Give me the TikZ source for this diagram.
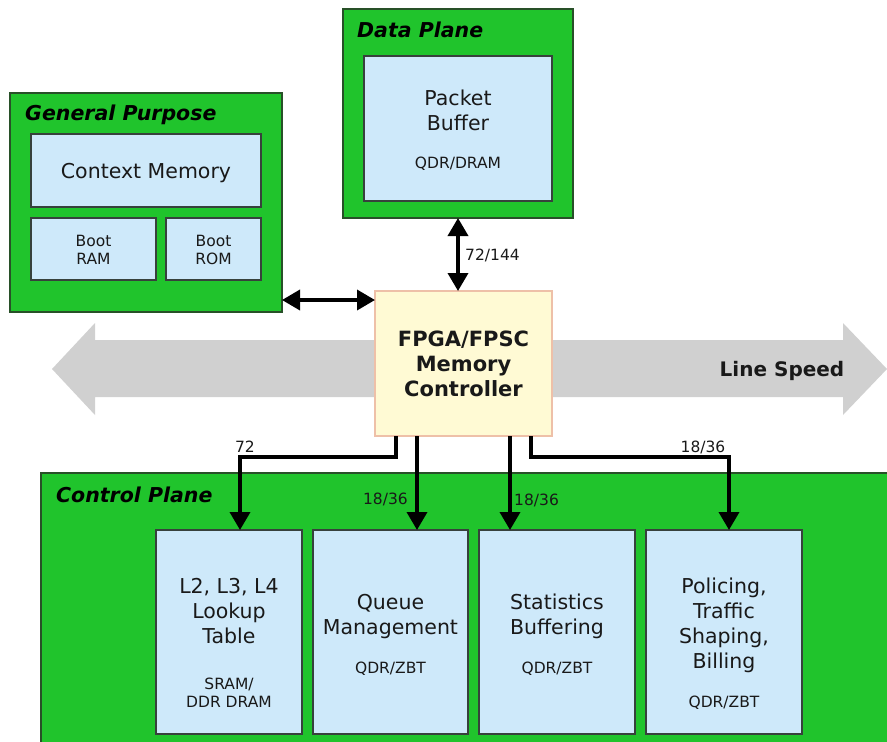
\documentclass[tikz,border=0pt]{standalone}
\usepackage{fontspec}
\setmainfont{DejaVu Sans}
\usetikzlibrary{arrows.meta}

\definecolor{planegreen}{RGB}{32,196,44}
\definecolor{planeedge}{RGB}{40,80,40}
\definecolor{memblue}{RGB}{206,233,250}
\definecolor{memedge}{RGB}{55,65,60}
\definecolor{ctrlfill}{RGB}{255,250,212}
\definecolor{ctrledge}{RGB}{238,192,168}
\definecolor{speedgray}{RGB}{208,208,208}
\definecolor{ink}{RGB}{25,25,25}

\tikzset{
  plane/.style={draw=planeedge, line width=1.3pt, fill=planegreen, inner sep=0pt, outer sep=0pt},
  mem/.style={draw=memedge, line width=1.3pt, fill=memblue, inner sep=0pt, outer sep=0pt},
  ctrl/.style={draw=ctrledge, line width=1.2pt, fill=ctrlfill, inner sep=0pt, outer sep=0pt},
  bigtxt/.style={anchor=base, inner sep=0pt, text=ink, font=\fontsize{20.5}{24}\selectfont},
  smalltxt/.style={anchor=base, inner sep=0pt, text=ink, font=\fontsize{15.5}{18}\selectfont},
  boldtxt/.style={anchor=base, inner sep=0pt, text=ink, font=\fontsize{21}{25}\selectfont\bfseries},
  planetitle/.style={anchor=base west, inner sep=0pt, text=black, font=\fontsize{20.5}{24}\selectfont\bfseries\itshape},
  buslabel/.style={inner sep=0pt, text=ink, font=\fontsize{15.5}{18}\selectfont},
  tip/.tip={Triangle[length=18pt,width=20pt]},
  bus/.style={line width=3.6pt, draw=black},
}

\begin{document}
\begin{tikzpicture}[x=1pt,y=-1pt]
\useasboundingbox (0,0) rectangle (887,742);
\clip (0,0) rectangle (887,742);

% line-speed band behind the controller
\fill[speedgray] (52,369) -- (95,323) -- (95,340) -- (843,340) -- (843,323)
  -- (887,369) -- (843,415) -- (843,397) -- (95,397) -- (95,415) -- cycle;
\node[anchor=base, inner sep=0pt, text=ink, font=\fontsize{20}{24}\selectfont\bfseries] (speed) at (782,376) {Line Speed};

% general purpose memories
\node[plane, minimum width=272pt, minimum height=219pt] (gp) at (146,202.5) {};
\node[planetitle] (gptitle) at (25,120) {General Purpose};
\node[mem, minimum width=230pt, minimum height=73pt] (ctx) at (146,170.5) {};
\node[bigtxt] (ctxtxt) at (146,178) {Context Memory};
\node[mem, minimum width=125pt, minimum height=62pt] (bram) at (93.5,249) {};
\node[smalltxt] (bramA) at (93.5,246.5) {Boot};
\node[smalltxt] (bramB) at (93.5,264.5) {RAM};
\node[mem, minimum width=95pt, minimum height=62pt] (brom) at (213.5,249) {};
\node[smalltxt] (bromA) at (213.5,246.5) {Boot};
\node[smalltxt] (bromB) at (213.5,264.5) {ROM};

% data plane
\node[plane, minimum width=230pt, minimum height=209pt] (dp) at (458,113.5) {};
\node[planetitle] (dptitle) at (357,37) {Data Plane};
\node[mem, minimum width=188pt, minimum height=145pt] (pkt) at (458,128.5) {};
\node[bigtxt] (pktA) at (458,105) {Packet};
\node[bigtxt] (pktB) at (458,130) {Buffer};
\node[smalltxt] (pktC) at (458,168.5) {QDR/DRAM};

% memory controller
\node[ctrl, minimum width=177pt, minimum height=145pt] (fpga) at (463.5,363.5) {};
\node[boldtxt] (fpgaA) at (463.5,346) {FPGA/FPSC};
\node[boldtxt] (fpgaB) at (463.5,371) {Memory};
\node[boldtxt] (fpgaC) at (463.5,396) {Controller};

% control plane
\fill[planegreen, draw=planeedge, line width=1.3pt] (41,473) rectangle (900,760);
\coordinate (cp) at (41,473);
\node[planetitle] (cptitle) at (56,502) {Control Plane};

\node[mem, minimum width=146pt, minimum height=204pt] (l2) at (229,632) {};
\node[bigtxt] (l2A) at (229,593) {L2, L3, L4};
\node[bigtxt] (l2B) at (229,618) {Lookup};
\node[bigtxt] (l2C) at (229,643) {Table};
\node[smalltxt] (l2D) at (229,689.5) {SRAM/};
\node[smalltxt] (l2E) at (229,707.5) {DDR DRAM};

\node[mem, minimum width=155pt, minimum height=204pt] (queue) at (390.5,632) {};
\node[bigtxt] (queueA) at (390.5,609) {Queue};
\node[bigtxt] (queueB) at (390.5,634) {Management};
\node[smalltxt] (queueC) at (390.5,673.5) {QDR/ZBT};

\node[mem, minimum width=156pt, minimum height=204pt] (stats) at (557,632) {};
\node[bigtxt] (statsA) at (557,609) {Statistics};
\node[bigtxt] (statsB) at (557,634) {Buffering};
\node[smalltxt] (statsC) at (557,673.5) {QDR/ZBT};

\node[mem, minimum width=156pt, minimum height=204pt] (pol) at (724,632) {};
\node[bigtxt] (polA) at (724,593) {Policing,};
\node[bigtxt] (polB) at (724,618) {Traffic};
\node[bigtxt] (polC) at (724,643) {Shaping,};
\node[bigtxt] (polD) at (724,668) {Billing};
\node[smalltxt] (polE) at (724,707.5) {QDR/ZBT};

% buses
\draw[bus, tip-tip] (dp.south) -- (dp.south |- fpga.north);
\node[buslabel, anchor=base west] (w144) at (465,260.5) {72/144};

\draw[bus, tip-tip] ([yshift=12pt]gp.south east) -- ([yshift=12pt]gp.south east -| fpga.west);

\draw[bus, -tip] ([xshift=21pt]fpga.south west) -- ++(0,21) -| ([xshift=11pt]l2.north);
\node[buslabel, anchor=base] (w72) at (245,452.5) {72};

\draw[bus, -tip] ([xshift=42pt]fpga.south west) -- ([xshift=42pt]fpga.south west |- queue.north);
\node[buslabel, anchor=base east] (wq) at (408,504.5) {18/36};

\draw[bus, -tip] ([xshift=135pt]fpga.south west) -- ([xshift=135pt]fpga.south west |- stats.north);
\node[buslabel, anchor=base west] (ws) at (514,505.5) {18/36};

\draw[bus, -tip] ([xshift=156pt]fpga.south west) -- ++(0,21) -| ([xshift=5pt]pol.north);
\node[buslabel, anchor=base] (wp) at (703,452.5) {18/36};
\end{tikzpicture}
\end{document}
